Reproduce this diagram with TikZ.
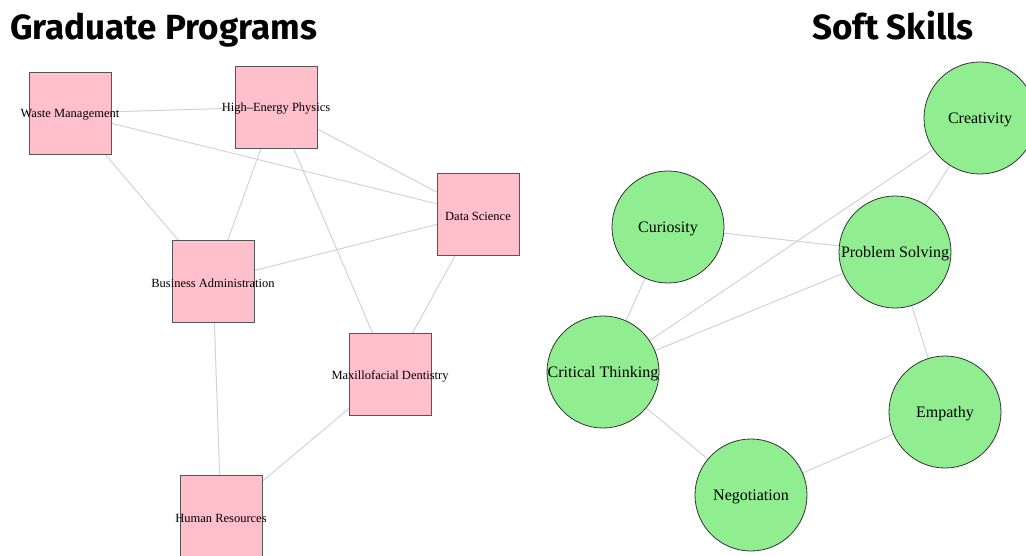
\documentclass[tikz,border=0pt]{standalone}
\usepackage{fontspec}
\setmainfont{Liberation Serif}
\newfontfamily\titlefont{Fira Sans}
\usetikzlibrary{backgrounds}
\definecolor{boxpink}{HTML}{FFC0CB}
\definecolor{boxline}{HTML}{555555}
\definecolor{skillgreen}{HTML}{90EE90}
\definecolor{edgegray}{HTML}{D3D3D3}
\tikzset{
  prog/.style={draw=boxline, fill=boxpink, line width=0.9pt, minimum size=82pt, inner sep=0pt},
  plab/.style={font=\fontsize{12.5}{14}\selectfont, inner sep=0pt, yshift=-2pt},
  skill/.style={circle, draw=black!80, fill=skillgreen, line width=0.8pt, minimum size=112pt, inner sep=0pt},
  slab/.style={font=\fontsize{16}{18}\selectfont, inner sep=0pt, yshift=-2pt},
  link/.style={draw=edgegray, line width=1pt},
  ttl/.style={font=\titlefont\bfseries\fontsize{35}{40}\selectfont, inner sep=0pt}
}
\begin{document}
\begin{tikzpicture}[x=1pt, y=-1pt]
\useasboundingbox (0,0) rectangle (1026,556);
\clip (0,0) rectangle (1026,556);
\node[ttl, anchor=base west] (t1) at (10,40) {Graduate Programs};
\node[ttl, anchor=base] (t2) at (893,40) {Soft Skills};
% programs
\node[prog, label={[plab]center:Waste Management}] (wm) at (70,113) {};
\node[prog, label={[plab]center:High\textendash Energy Physics}] (hep) at (276,107) {};
\node[prog, label={[plab]center:Data Science}] (ds) at (478,214) {};
\node[prog, label={[plab]center:Business Administration}] (ba) at (213,281) {};
\node[prog, label={[plab]center:Maxillofacial Dentistry}] (md) at (390,374) {};
\node[prog, label={[plab]center:Human Resources}] (hr) at (221,516) {};
% skills
\node[skill, label={[slab]center:Creativity}] (cr) at (980,118) {};
\node[skill, label={[slab]center:Curiosity}] (cu) at (668,227) {};
\node[skill, label={[slab]center:Problem Solving}] (ps) at (895,252) {};
\node[skill, label={[slab]center:Critical Thinking}] (ct) at (603,372) {};
\node[skill, label={[slab]center:Empathy}] (em) at (945,412) {};
\node[skill, label={[slab]center:Negotiation}] (ne) at (751,495) {};
\begin{scope}[on background layer]
\draw[link] (wm.center) -- (hep.center);
\draw[link] (wm.center) -- (ds.center);
\draw[link] (wm.center) -- (ba.center);
\draw[link] (hep.center) -- (ba.center);
\draw[link] (hep.center) -- (ds.center);
\draw[link] (hep.center) -- (md.center);
\draw[link] (ds.center) -- (ba.center);
\draw[link] (ds.center) -- (md.center);
\draw[link] (ba.center) -- (hr.center);
\draw[link] (md.center) -- (hr.center);
\draw[link] (cr.center) -- (ct.center);
\draw[link] (cr.center) -- (ps.center);
\draw[link] (cu.center) -- (ps.center);
\draw[link] (cu.center) -- (ct.center);
\draw[link] (ps.center) -- (ct.center);
\draw[link] (ps.center) -- (em.center);
\draw[link] (ct.center) -- (ne.center);
\draw[link] (ne.center) -- (em.center);
\end{scope}
\end{tikzpicture}
\end{document}
